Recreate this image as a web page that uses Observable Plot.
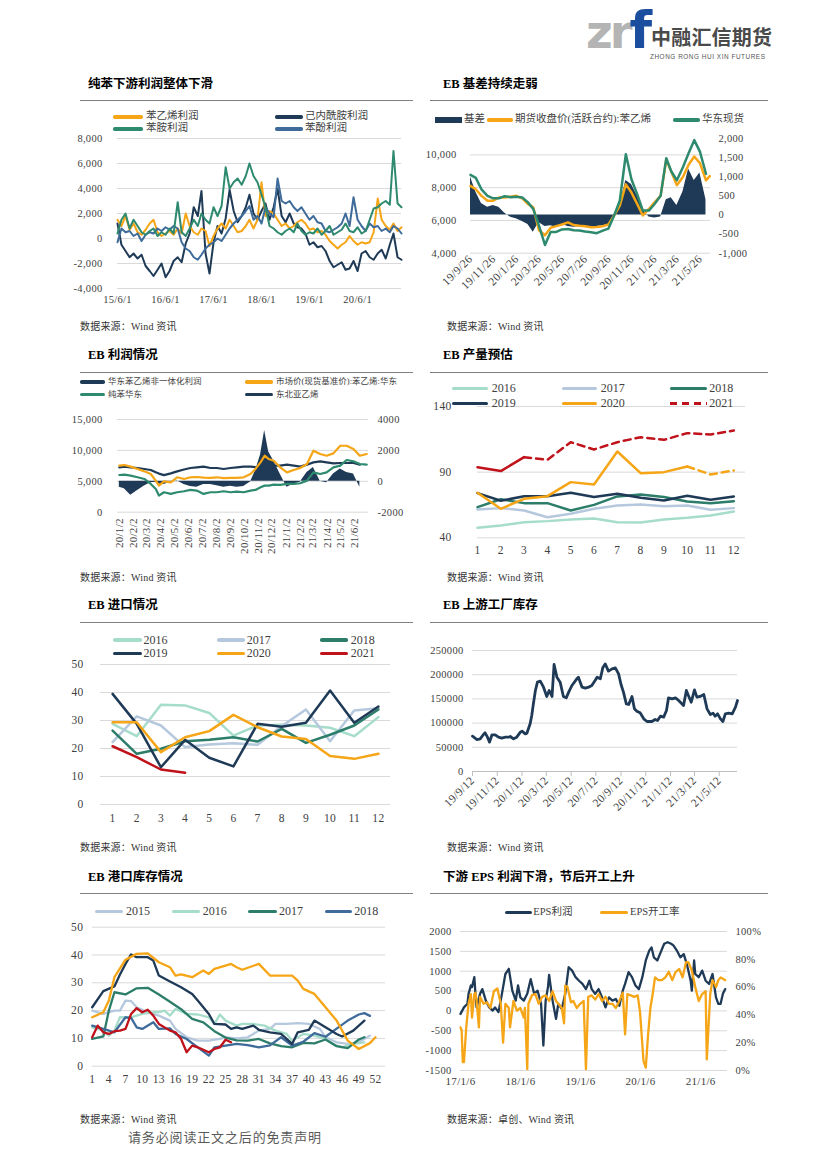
<!DOCTYPE html>
<html><head><meta charset="utf-8">
<script src="https://cdn.jsdelivr.net/npm/d3@7"></script>
<script src="https://cdn.jsdelivr.net/npm/@observablehq/plot@0.6"></script>
<style>
body{margin:0;background:#fff;}
#page{position:relative;width:826px;height:1169px;overflow:hidden;background:#fff;}
#page svg text{letter-spacing:0.3px;}
</style></head><body><div id="page"></div>
<script>
// ---------------- DATA ----------------
// Chart 1: 纯苯下游利润 (monthly, 2015-06 .. 2021-05)
const c1Styrene = [1500,1000,1800,700,1200,500,300,700,1200,1500,500,200,400,600,300,800,400,2000,1000,500,300,800,600,-600,200,800,1200,800,1500,1000,500,600,1000,1500,800,1500,4500,1800,2200,2000,1500,1000,1200,800,1000,1300,1500,1200,700,800,500,600,300,-200,-500,-800,-500,-300,200,-200,-500,-300,-400,-300,500,3200,1500,1000,700,1200,600,900];
const c1Caprolactam = [1200,-500,-1000,-1500,-1200,-1600,-1300,-2200,-2600,-3000,-2500,-2000,-3100,-2600,-1800,-1500,-1900,-400,400,2500,1800,3800,-1200,-2800,-300,1000,400,1600,3900,2200,1300,1800,2500,3500,2000,1500,2200,2800,1500,2500,4000,1800,1300,2000,1200,900,800,400,-500,-300,-700,-600,-1000,-1800,-2300,-2100,-1900,-2500,-2400,-1800,-2600,-1200,-1000,-1500,-1700,-1200,-900,-1600,-500,400,-1500,-1700];
const c1Aniline = [400,1500,2000,800,1500,1000,500,300,600,800,200,500,300,800,400,2900,500,200,800,1500,1000,2000,1500,1200,2500,1800,2600,5700,4000,4500,4800,4300,5000,6000,5000,4500,3500,2500,1000,800,500,300,600,800,500,1200,600,300,500,400,800,300,600,1000,300,500,700,1200,600,500,900,400,600,1500,2400,2500,2800,3000,2700,7000,2800,2500];
const c1Phenol = [-300,800,500,600,200,400,-200,300,500,400,800,600,900,700,1000,800,-300,-800,-1000,-1500,-1700,-1300,-800,-500,-300,0,-200,300,800,1200,1500,1800,2200,2600,1500,1800,1200,2500,2000,1700,4800,3000,2800,3000,2500,2200,2500,2000,1500,1800,1300,1200,600,500,700,900,1200,2000,1000,3300,1500,1000,600,1200,900,1000,600,800,500,1000,800,400];
const c1YTicks = [-4000,-2000,0,2000,4000,6000,8000];
const c1XTicks = ["2015-06-01","2016-06-01","2017-06-01","2018-06-01","2019-06-01","2020-06-01"];

// Chart 2: EB 基差
const c2Dates = ["2019-09-26","2019-10-10","2019-10-25","2019-11-10","2019-11-25","2019-12-10","2019-12-25","2020-01-10","2020-01-25","2020-02-10","2020-02-25","2020-03-10","2020-03-25","2020-04-10","2020-04-25","2020-05-10","2020-05-25","2020-06-10","2020-06-25","2020-07-10","2020-07-25","2020-08-10","2020-08-25","2020-09-10","2020-09-25","2020-10-10","2020-10-25","2020-11-10","2020-11-25","2020-12-10","2020-12-25","2021-01-10","2021-01-25","2021-02-10","2021-02-25","2021-03-10","2021-03-25","2021-04-10","2021-04-25","2021-05-10","2021-05-25","2021-06-10","2021-06-20"];
const c2Spot = [8780,8600,7900,7500,7350,7350,7480,7420,7450,7400,7100,6700,5700,4500,5300,5300,5450,5480,5400,5380,5320,5280,5220,5380,5500,6300,7200,10040,8500,7600,6600,6600,7000,7500,9800,9000,8450,9250,10100,10900,10200,8850,null];
const c2Futures = [8110,7900,7500,7200,7200,7400,7400,7450,7500,7350,7000,6800,5400,5100,5550,5650,5750,5880,5720,5680,5650,5580,5600,5650,5750,6300,6900,8200,7700,7000,6300,6700,7100,7500,9700,9000,8150,8650,9400,9900,9500,8450,8700];
const c2Basis = [990,600,300,200,250,200,50,-60,-100,-170,-250,-450,-200,-300,-280,-320,-250,-300,-320,-300,-300,-320,-300,-280,-250,0,250,900,800,500,150,-50,-80,-50,400,450,250,600,1200,900,1100,400,null];
const c2LeftTicks = [4000,6000,8000,10000];
const c2RightTicks = [-1000,-500,0,500,1000,1500,2000];
const c2XTicks = ["2019-09-26","2019-11-26","2020-01-26","2020-03-26","2020-05-26","2020-07-26","2020-09-26","2020-11-26","2021-01-26","2021-03-26","2021-05-26"];

// Chart 3: EB 利润情况
const c3Dates = ["2020-01-02","2020-01-13","2020-01-27","2020-02-11","2020-02-26","2020-03-11","2020-03-22","2020-03-29","2020-04-09","2020-04-24","2020-05-08","2020-05-23","2020-06-06","2020-06-20","2020-07-05","2020-07-20","2020-08-03","2020-08-18","2020-09-02","2020-09-16","2020-10-01","2020-10-16","2020-10-27","2020-11-07","2020-11-16","2020-11-25","2020-12-06","2020-12-20","2021-01-04","2021-01-19","2021-02-02","2021-02-17","2021-03-03","2021-03-18","2021-04-01","2021-04-16","2021-05-01","2021-05-15","2021-05-30","2021-06-13","2021-06-28"];
const c3Styrene = [7530,7630,7370,6990,6610,6180,5110,4300,5000,4840,5650,5380,5650,5700,5600,5540,5650,5500,5540,5540,5650,6180,7000,8060,9140,8600,8330,7260,6450,6830,7150,7800,9950,9410,9140,9520,10750,10750,10220,9140,9410];
const c3Benzene = [6020,6080,5910,5650,5380,4570,3760,2690,3230,2960,3230,3390,3600,3500,2960,3230,3230,3390,3230,3330,3230,3500,3600,4030,4300,4300,4460,4410,4570,4570,4680,5110,6450,6180,6450,7260,7530,8440,8230,7800,7690];
const c3Ethylene = [7260,7370,7260,7150,6990,6830,6450,6250,6000,6290,6610,6900,7150,7260,7370,7150,7150,6990,7150,7260,7370,7370,7300,7260,7370,7370,7530,7530,7690,7530,7370,7690,8060,8230,8060,7900,7960,7960,7960,7690,null];
const c3Profit = [-380,-490,-900,-600,-300,-100,-60,-170,-200,-60,40,-200,-340,-380,-210,-200,-280,-380,-320,-380,-340,-50,680,1700,3280,1900,1320,470,-380,-170,-60,570,890,0,-100,470,790,570,470,-380,null];
const c3LeftTicks = [0,5000,10000,15000];
const c3RightTicks = [-2000,0,2000,4000];

// Chart 4: EB 产量预估
const months = [1,2,3,4,5,6,7,8,9,10,11,12];
const c4_2016 = [47.6,49.4,51.9,52.7,54,54.7,51.9,51.7,54,55.2,57,60];
const c4_2017 = [61.6,62.6,60.8,55.7,58.3,62.1,64.6,65.4,64.1,64.6,61.3,62.6];
const c4_2018 = [63.4,69.4,66.4,66.4,60.8,65.1,71.5,73,71,67.7,66.4,67.9];
const c4_2019 = [74,68.2,71.7,71.7,74.3,71,73.5,70.5,68.4,72,68.9,71.5];
const c4_2020 = [74.3,62.1,69.7,71.7,82.4,80.6,105.7,89.2,90,94.3,88.2,91.3];
const c4_2021 = [93.8,90.8,101.4,99.4,112.8,107.3,112.8,116.6,114.6,119.7,118.7,121.7];
const c4Forecast2020From = 10, c4Forecast2021From = 3;
const c4YTicks = [40,90,140];

// Chart 5: EB 进口情况
const c5_2016 = [28.8,24.4,35.6,35.4,32.7,24.6,28.2,28.5,28.2,27.4,24.4,31.2];
const c5_2017 = [22.3,31.5,28.2,20.5,21.4,21.9,21.3,28,33.9,22.6,33.6,34.4];
const c5_2018 = [26.4,18.1,19.9,22.6,23.1,24,22.5,27,22,24.9,28.2,33.9];
const c5_2019 = [39.5,28.8,13.3,23.1,16.7,13.6,28.8,27.8,29.2,40.7,29.2,35];
const c5_2020 = [29.4,29.4,18.7,24,26.2,32,27.6,24.3,23.4,17.3,16.3,18.1];
const c5_2021 = [20.8,16.9,12.5,11.3];
const c5YTicks = [0,10,20,30,40,50];

// Chart 6: EB 上游工厂库存
const c6Dates = ["2019-09-12","2019-09-23","2019-10-01","2019-10-09","2019-10-13","2019-10-19","2019-10-24","2019-10-30","2019-11-07","2019-11-15","2019-11-23","2019-12-02","2019-12-10","2019-12-14","2019-12-22","2019-12-30","2020-01-08","2020-01-12","2020-01-20","2020-01-24","2020-02-01","2020-02-05","2020-02-09","2020-02-14","2020-02-19","2020-02-26","2020-03-05","2020-03-13","2020-03-19","2020-03-26","2020-03-31","2020-04-07","2020-04-15","2020-04-23","2020-04-30","2020-05-06","2020-05-14","2020-05-26","2020-05-30","2020-06-08","2020-06-16","2020-06-24","2020-07-02","2020-07-10","2020-07-15","2020-07-23","2020-07-29","2020-08-04","2020-08-12","2020-08-21","2020-08-29","2020-09-06","2020-09-12","2020-09-18","2020-09-25","2020-10-01","2020-10-09","2020-10-15","2020-10-21","2020-10-29","2020-11-07","2020-11-15","2020-11-27","2020-12-05","2020-12-11","2020-12-18","2020-12-26","2021-01-02","2021-01-07","2021-01-16","2021-01-24","2021-02-01","2021-02-13","2021-02-20","2021-02-26","2021-03-04","2021-03-12","2021-03-18","2021-03-26","2021-04-04","2021-04-12","2021-04-20","2021-04-27","2021-05-02","2021-05-08","2021-05-15","2021-05-21","2021-05-27","2021-06-04","2021-06-13","2021-06-21","2021-06-26"];
const c6Stock = [73000,66100,67500,76400,79900,70900,60600,75800,75800,70900,68900,70900,70900,72300,67500,70900,81300,83300,77800,79200,98500,115700,139800,167400,184600,186600,174200,155000,167400,155000,221100,194900,184600,155000,152200,163900,177700,191500,194900,174200,172200,174200,177700,188000,194900,191500,214200,222400,207300,212100,214200,201800,179700,163900,139800,138500,155000,129500,124700,121200,108800,103300,103300,107400,105400,114300,112300,126000,152200,150100,152200,146700,136400,167400,155000,143200,168700,153600,155000,159100,129500,117800,120500,114300,119100,108800,103300,119100,120500,119100,132900,146700];
const c6YTicks = [0,50000,100000,150000,200000,250000];
const c6XTicks = ["2019-09-12","2019-11-12","2020-01-12","2020-03-12","2020-05-12","2020-07-12","2020-09-12","2020-11-12","2021-01-12","2021-03-12","2021-05-12"];

// Chart 7: EB 港口库存情况 (week number, value)
const c7Weeks2015 = [1,3,5,6,7,8,9,11,13,15,16,18,20,22,24,25,27,29,31,33,34,36,38,40,42,43,45,47,49,51];
const c7_2015 = [20,18.8,20,20,23.6,23.4,21.2,19.4,18.2,16.4,13.4,10.4,9.2,9.2,9.8,10.4,10,10.4,12.8,13.4,15.2,15.2,15.5,15.2,13.4,10.4,8.6,8,8.6,11];
const c7Weeks2016 = [1,3,4,5,6,8,9,10,12,13,14,15,16,18,20,22,23,24,25,27,28,30,32,34,36,37,39,41,43,45,46,48,50];
const c7_2016 = [14,12.8,11,12.8,17.6,17.6,18.2,18.8,19.4,19.4,20,18.2,20.6,18.8,18.6,17.6,15.2,18.6,16.4,14.6,15.2,15.2,14.6,12.8,11.6,9.2,11.6,11,9.8,7.4,6.8,8,8.6];
const c7Weeks2017 = [1,3,4,5,7,9,11,13,15,17,19,21,23,25,27,29,31,33,35,37,39,41,43,45,47,49,50];
const c7_2017 = [9.8,10.7,20,26.6,25.8,28,28.2,25.8,23.2,20.5,17,15.8,12.6,10.3,9.3,9.2,9.8,8.2,7.2,6.8,8.4,8.2,9.6,7.2,6.5,9.6,10.4];
const c7Weeks2018 = [1,3,5,7,8,9,10,12,13,15,16,18,20,22,23,25,27,29,31,33,35,37,39,41,43,45,47,49,50,51];
const c7_2018 = [14.6,13.4,12.2,17.6,17.4,14,13.4,15.8,13.4,13.6,11.6,9.8,6.8,3.8,6.8,7.4,8,7.6,6.8,7.5,10.4,7.4,8.8,11.9,10.6,13.5,16.4,18.6,19.1,18.1];
const c7Weeks2019 = [1,3,5,6,7,8,9,11,12,13,15,17,19,20,22,23,25,26,27,28,30,31,33,35,37,38,40,41,43,45,46,48,49,50];
const c7_2019 = [21.2,27,28.7,33,36.8,40.2,39.2,39.2,38,32.6,30.5,28.4,26,23.6,18.8,15.2,15,13.4,14,13.4,14.6,13.1,12.2,11.6,8,12.2,13.1,16.4,14,11.6,10.7,12.8,14.6,16.4];
const c7Weeks2020 = [1,3,4,5,7,9,11,13,15,16,17,19,21,22,23,25,26,27,28,31,33,35,37,38,39,41,43,45,47,49,51,52];
const c7_2020 = [17.6,19.4,23.6,32,38.3,40.4,40.6,37.4,35.6,32.6,33,32,34.4,33.2,35,36.2,36.8,35.6,34.7,36.8,32.6,32.6,32.6,30.8,27.8,26,21.2,16.4,9.2,6.2,8.3,10.4];
const c7Weeks2021 = [1,2,3,4,5,6,7,8,9,10,11,12,13,15,16,17,18,19,20,22,23,24,25,26];
const c7_2021 = [10.4,14.6,12.2,11.6,12.6,12.8,13.4,18.8,20.9,19.4,20.3,18.2,15.2,12.8,12.2,9.8,5,7.4,6.8,5,6.2,6.8,9.5,8.6];
const c7YTicks = [0,10,20,30,40,50];
const c7XTicks = [1,4,7,10,13,16,19,22,25,28,31,34,37,40,43,46,49,52];

// Chart 8: EPS (weeks since 2017-01-06)
const c8Start = "2017-01-06";
const c8ProfitWeeks = [0,3,6,7,9,10,12,13,14,17,19,22,25,28,30,33,36,39,42,45,48,50,52,55,58,61,64,67,70,72,74,76,77,80,83,85,88,91,94,97,100,103,106,109,112,114,117,120,123,126,129,132,135,138,141,143,146,149,152,155,158,161,164,166,168,171,174,177,180,183,185,188,191,194,197,200,201,203,204,207,210,213,216,219,222,224,226,228,230];
const c8Profit = [-75,90,180,430,640,600,850,430,90,430,550,260,90,10,90,-30,430,930,1060,510,260,640,340,260,430,800,430,510,180,-870,260,600,910,260,-200,180,50,430,1100,1015,850,760,680,550,760,550,430,550,340,90,340,260,300,130,510,680,975,850,640,550,850,1270,1520,1600,1350,1270,1480,1690,1730,1690,1650,1520,1350,1430,1140,760,510,1270,930,850,1015,760,680,930,340,180,180,430,550];
const c8RateWeeks = [0,1,2,3,5,7,9,10,12,13,14,16,17,20,23,26,29,32,35,37,39,42,43,46,49,52,55,56,58,59,62,65,68,71,74,77,80,83,85,88,90,91,93,96,98,101,104,107,109,111,114,117,120,123,126,129,132,135,138,141,143,145,148,151,154,156,159,161,163,165,167,169,172,175,178,181,184,187,190,193,196,198,201,204,207,210,213,214,217,219,222,224,226,228,230];
const c8Rate = [31,29,6,6,31,48,55,38,55,56,50,31,53,48,49,45,57,59,48,20,48,45,31,50,43,45,38,45,1,48,54,55,48,53,54,50,57,50,48,45,34,61,60,49,50,45,48,50,1,53,54,51,55,50,53,48,48,45,50,56,26,55,54,53,54,42,7,2,26,45,55,67,65,65,67,71,65,71,73,67,78,78,72,60,50,55,57,8,55,65,60,65,67,66,65];
const c8LeftTicks = [-1500,-1000,-500,0,500,1000,1500,2000];
const c8RightTicks = [0,20,40,60,80,100];
const c8XTicks = ["2017-01-06","2018-01-06","2019-01-06","2020-01-06","2021-01-06"];

// ---------------- STYLE ----------------
const NAVY="#1F3A56", ORANGE="#F5A515", TEAL="#2E8A6E", STEEL="#3E6B99", MINT="#A6DCCA", LBLUE="#B5C8DD", DTEAL="#2C7D69", RED="#C0121A", GRID="#D9D9D9";
const FONT="'Liberation Serif','Noto Sans CJK SC',serif";
const page = document.getElementById("page");
const D = s => new Date(s);
const fmtComma = d => d3.format(",")(d).replace("\u2212","-");
const fmtNum = d => String(Math.round(d));
const fmtDate = d3.utcFormat("%y/%-m/%-d");
const st = fs => ({fontFamily: FONT, fontSize: fs + "px", color: "#404040", background: "transparent", overflow: "visible"});

function put(node, left, top) { node.style.position = "absolute"; node.style.left = left + "px"; node.style.top = top + "px"; page.appendChild(node); return node; }
function text(str, left, top, css) { const d = document.createElement("div"); d.textContent = str; d.style.cssText = `position:absolute;left:${left}px;top:${top}px;white-space:nowrap;line-height:1;` + css; page.appendChild(d); return d; }
function rule(left, top, width) { const d = document.createElement("div"); d.style.cssText = `position:absolute;left:${left}px;top:${top}px;width:${width}px;height:0;border-top:1.3px solid #808080;`; page.appendChild(d); }
function legend(x, y, w, tx, color, label, o = {}) {
  const h = o.box || o.h || 3.5, fs = o.fs || 10.5;
  const s = document.createElement("div");
  let bg = `background:${color};border-radius:${o.box ? 0 : h / 2}px;`;
  if (o.dash) bg = `background:repeating-linear-gradient(90deg,${color} 0 ${o.dash[0]}px,transparent ${o.dash[0]}px ${o.dash[0] + o.dash[1]}px);`;
  s.style.cssText = `position:absolute;left:${x}px;top:${y - h / 2}px;width:${w}px;height:${h}px;` + bg;
  page.appendChild(s);
  text(label, tx, y - fs * 0.5 - 0.5, `font-size:${fs}px;color:#404040;font-family:${FONT};`);
}
function title(str, x, y) { text(str, x, y - 6.5, `font-size:12.5px;font-weight:bold;color:#000;font-family:${FONT};`); }
function source(str, x, y) { text(str, x, y - 5, `font-size:10px;color:#333;font-family:${FONT};letter-spacing:0.2px;`); }
function spacing(svg, sel, px) { svg.querySelectorAll(`[aria-label="${sel}"] text`).forEach(t => t.setAttribute("letter-spacing", px)); }

// ---------------- HEADER ----------------
const logo = document.createElement("div");
logo.style.cssText = "position:absolute;left:586px;top:4px;white-space:nowrap;line-height:1;font-family:'DejaVu Sans';font-weight:bold;";
logo.innerHTML = '<span style="font-size:46px;color:#B4B4B4;letter-spacing:-3px;">zr</span><span style="font-size:52px;color:#1B4E9E;">f</span>';
page.appendChild(logo);
text("中融汇信期货", 651, 27, "font-family:'Noto Sans CJK SC';font-weight:bold;font-size:20px;color:#4a4a4a;letter-spacing:0.2px;");
text("ZHONG RONG HUI XIN FUTURES", 650, 54, "font-family:'Liberation Sans';font-size:6.4px;color:#555;letter-spacing:0.55px;");

// ---------------- CHART 1 ----------------
title("纯苯下游利润整体下滑", 88, 84); rule(80, 100, 333);
const c1Months = d3.utcMonth.range(D("2015-06-01"), D("2021-06-01"));
const r1 = s => c1Months.map((d, i) => ({x: d, y: s[i]}));
const ch1 = Plot.plot({
  width: 330, height: 180, marginLeft: 37, marginRight: 9, marginTop: 8, marginBottom: 22, style: st(10.5),
  x: {type: "utc", domain: [c1Months[0], c1Months[c1Months.length - 1]], label: null},
  y: {domain: [-4000, 8000], label: null},
  marks: [
    Plot.gridY({ticks: c1YTicks, stroke: GRID, strokeOpacity: 1}),
    Plot.axisY({ticks: c1YTicks, tickSize: 0, tickPadding: 15, tickFormat: fmtComma, label: null}),
    Plot.axisX({ticks: c1XTicks.map(D), tickSize: 0, tickPadding: 7, tickFormat: fmtDate, label: null}),
    Plot.lineY(r1(c1Caprolactam), {x: "x", y: "y", stroke: NAVY, strokeWidth: 2}),
    Plot.lineY(r1(c1Styrene), {x: "x", y: "y", stroke: ORANGE, strokeWidth: 2}),
    Plot.lineY(r1(c1Phenol), {x: "x", y: "y", stroke: STEEL, strokeWidth: 2}),
    Plot.lineY(r1(c1Aniline), {x: "x", y: "y", stroke: TEAL, strokeWidth: 2})
  ]
});
spacing(ch1, "x-axis tick label", 0.8);
put(ch1, 80, 130);
legend(113, 117, 30, 146, ORANGE, "苯乙烯利润");
legend(275, 117, 28, 305, NAVY, "己内酰胺利润");
legend(113, 129, 30, 146, TEAL, "苯胺利润");
legend(275, 129, 28, 305, STEEL, "苯酚利润");
source("数据来源：Wind 资讯", 80, 327);

// ---------------- CHART 2 ----------------
title("EB 基差持续走弱", 443, 84); rule(430, 100, 338);
const c2R = d3.scaleLinear([-1000, 2000], [4000, 11000]);
const c2Data = c2Dates.map((d, i) => ({x: D(d), spot: c2Spot[i], fut: c2Futures[i], basis: c2Basis[i]}));
const ch2 = Plot.plot({
  width: 340, height: 200, marginLeft: 40, marginRight: 60, marginTop: 8, marginBottom: 77.3, style: st(10.5),
  x: {type: "utc", domain: [D("2019-09-26"), D("2021-06-22")], label: null},
  y: {domain: [4000, 11000], label: null},
  marks: [
    Plot.gridY({ticks: c2LeftTicks, stroke: GRID, strokeOpacity: 1}),
    Plot.areaY(c2Data.filter(d => d.basis != null), {x: "x", y1: c2R(0), y2: d => c2R(d.basis), fill: NAVY}),
    Plot.lineY(c2Data, {x: "x", y: "fut", stroke: ORANGE, strokeWidth: 2.5}),
    Plot.lineY(c2Data.filter(d => d.spot != null), {x: "x", y: "spot", stroke: TEAL, strokeWidth: 2.5}),
    Plot.axisY({ticks: c2LeftTicks, tickSize: 0, tickPadding: 14, tickFormat: fmtComma, label: null}),
    Plot.axisY({ticks: c2RightTicks.map(c2R), anchor: "right", tickSize: 0, tickPadding: 8, tickFormat: d => fmtComma(Math.round(c2R.invert(d))), label: null}),
    Plot.axisX({ticks: c2XTicks.map(D), tickRotate: -45, tickSize: 0, tickPadding: 4, tickFormat: fmtDate, label: null, fontSize: 11.5})
  ]
});
spacing(ch2, "x-axis tick label", 1.3);
put(ch2, 430, 130);
legend(435, 120, 27, 464, NAVY, "基差", {box: 6});
legend(487, 120, 26, 515, ORANGE, "期货收盘价(活跃合约):苯乙烯");
legend(673, 120, 27, 702, TEAL, "华东现货");
source("数据来源：Wind 资讯", 447, 327);

// ---------------- CHART 3 ----------------
title("EB 利润情况", 88, 355); rule(80, 371.5, 333);
const c3R = d3.scaleLinear([-2000, 4000], [0, 15000]);
const c3Data = c3Dates.map((d, i) => ({x: D(d), sty: c3Styrene[i], ben: c3Benzene[i], eth: c3Ethylene[i], pro: c3Profit[i]}));
const c3XTicks = d3.utcMonth.range(D("2020-01-01"), D("2021-06-02")).map(d => d3.utcDay.offset(d, 1));
const ch3 = Plot.plot({
  width: 340, height: 160, marginLeft: 47, marginRight: 42, marginTop: 9, marginBottom: 58.3, style: st(10.5),
  x: {type: "utc", domain: [D("2019-12-29"), D("2021-07-02")], label: null},
  y: {domain: [0, 15000], label: null},
  marks: [
    Plot.gridY({ticks: c3LeftTicks, stroke: GRID, strokeOpacity: 1}),
    Plot.areaY(c3Data.filter(d => d.pro != null), {x: "x", y1: c3R(0), y2: d => c3R(d.pro), fill: NAVY}),
    Plot.lineY(c3Data.filter(d => d.eth != null), {x: "x", y: "eth", stroke: NAVY, strokeWidth: 2.2}),
    Plot.lineY(c3Data, {x: "x", y: "ben", stroke: TEAL, strokeWidth: 2.2}),
    Plot.lineY(c3Data, {x: "x", y: "sty", stroke: ORANGE, strokeWidth: 2.2}),
    Plot.axisY({ticks: c3LeftTicks, tickSize: 0, tickPadding: 15, tickFormat: fmtComma, label: null}),
    Plot.axisY({ticks: c3RightTicks.map(c3R), anchor: "right", tickSize: 0, tickPadding: 9, tickFormat: d => fmtComma(Math.round(c3R.invert(d))).replace(",", ""), label: null}),
    Plot.axisX({ticks: c3XTicks, tickRotate: -90, tickSize: 0, tickPadding: 6, tickFormat: fmtDate, label: null, fontSize: 11})
  ]
});
spacing(ch3, "x-axis tick label", 1.2);
put(ch3, 70, 410);
legend(80, 382, 25, 108, NAVY, "华东苯乙烯非一体化利润", {fs: 8.5});
legend(245, 382, 28, 276, ORANGE, "市场价(现货基准价):苯乙烯:华东", {fs: 8.5});
legend(80, 394.3, 25, 108, TEAL, "纯苯华东", {fs: 8.5});
legend(245, 394.3, 28, 276, NAVY, "东北亚乙烯", {fs: 8.5});
source("数据来源：Wind 资讯", 80, 578);

// ---------------- CHART 4 ----------------
title("EB 产量预估", 443, 355); rule(430, 371.5, 338);
const mr = (s, a = 1, b = 12) => months.map((m, i) => ({x: m, y: s[i]})).filter(d => d.x >= a && d.x <= b && d.y != null);
const ch4 = Plot.plot({
  width: 340, height: 165, marginLeft: 47, marginRight: 25, marginTop: 8, marginBottom: 25.7, style: st(11.5),
  x: {domain: [1, 12.5], label: null}, y: {domain: [40, 140], label: null},
  marks: [
    Plot.gridY({ticks: c4YTicks, stroke: GRID, strokeOpacity: 1}),
    Plot.axisY({ticks: c4YTicks, tickSize: 0, tickPadding: 26, label: null}),
    Plot.axisX({ticks: months, tickSize: 0, tickPadding: 8, label: null}),
    Plot.lineY(mr(c4_2016), {x: "x", y: "y", stroke: MINT, strokeWidth: 2.5}),
    Plot.lineY(mr(c4_2017), {x: "x", y: "y", stroke: LBLUE, strokeWidth: 2.5}),
    Plot.lineY(mr(c4_2018), {x: "x", y: "y", stroke: DTEAL, strokeWidth: 2.5}),
    Plot.lineY(mr(c4_2019), {x: "x", y: "y", stroke: NAVY, strokeWidth: 2.5}),
    Plot.lineY(mr(c4_2020, 1, c4Forecast2020From), {x: "x", y: "y", stroke: ORANGE, strokeWidth: 2.5}),
    Plot.lineY(mr(c4_2020, c4Forecast2020From, 12), {x: "x", y: "y", stroke: ORANGE, strokeWidth: 2.5, strokeDasharray: "7,5"}),
    Plot.lineY(mr(c4_2021, 1, c4Forecast2021From), {x: "x", y: "y", stroke: RED, strokeWidth: 2.5}),
    Plot.lineY(mr(c4_2021, c4Forecast2021From, 12), {x: "x", y: "y", stroke: RED, strokeWidth: 2.5, strokeDasharray: "7,5"})
  ]
});
put(ch4, 430, 398);
legend(452, 388.3, 36, 491.7, MINT, "2016", {fs: 12});
legend(562, 388.3, 35, 600.7, LBLUE, "2017", {fs: 12});
legend(670, 388.3, 37, 709.3, DTEAL, "2018", {fs: 12});
legend(452, 403.5, 36, 491.7, NAVY, "2019", {fs: 12});
legend(562, 403.5, 35, 600.7, ORANGE, "2020", {fs: 12});
legend(670, 403.5, 37, 709.3, RED, "2021", {fs: 12, dash: [7, 5]});
source("数据来源：Wind 资讯", 447, 578);

// ---------------- CHART 5 ----------------
title("EB 进口情况", 88, 605); rule(80, 621.5, 333);
const ch5 = Plot.plot({
  width: 340, height: 175, marginLeft: 40, marginRight: 10, marginTop: 9, marginBottom: 26, style: st(11.5),
  x: {domain: [0.5, 12.5], label: null}, y: {domain: [0, 50], label: null},
  marks: [
    Plot.gridY({ticks: c5YTicks, stroke: GRID, strokeOpacity: 1}),
    Plot.axisY({ticks: c5YTicks, tickSize: 0, tickPadding: 17, label: null}),
    Plot.axisX({ticks: months, tickSize: 0, tickPadding: 9, label: null}),
    Plot.lineY(mr(c5_2016), {x: "x", y: "y", stroke: MINT, strokeWidth: 2.5}),
    Plot.lineY(mr(c5_2017), {x: "x", y: "y", stroke: LBLUE, strokeWidth: 2.5}),
    Plot.lineY(mr(c5_2018), {x: "x", y: "y", stroke: DTEAL, strokeWidth: 2.5}),
    Plot.lineY(mr(c5_2019), {x: "x", y: "y", stroke: NAVY, strokeWidth: 2.5}),
    Plot.lineY(mr(c5_2020), {x: "x", y: "y", stroke: ORANGE, strokeWidth: 2.5}),
    Plot.lineY(mr(c5_2021), {x: "x", y: "y", stroke: RED, strokeWidth: 2.5})
  ]
});
put(ch5, 60, 655);
legend(113, 640, 29, 143.5, MINT, "2016", {fs: 12});
legend(217, 640, 28, 246.7, LBLUE, "2017", {fs: 12});
legend(320, 640, 28, 350.7, DTEAL, "2018", {fs: 12});
legend(113, 653.7, 29, 143.5, NAVY, "2019", {fs: 12});
legend(217, 653.7, 28, 246.7, ORANGE, "2020", {fs: 12});
legend(320, 653.7, 28, 350.7, RED, "2021", {fs: 12});
source("数据来源：Wind 资讯", 80, 848);

// ---------------- CHART 6 ----------------
title("EB 上游工厂库存", 443, 605); rule(430, 621.5, 338);
const ch6 = Plot.plot({
  width: 320, height: 200, marginLeft: 42, marginRight: 13, marginTop: 8, marginBottom: 71, style: st(10.5),
  x: {type: "utc", domain: [D("2019-09-12"), D("2021-06-26")], label: null},
  y: {domain: [0, 250000], label: null},
  marks: [
    Plot.gridY({ticks: c6YTicks.slice(1), stroke: GRID, strokeOpacity: 1}),
    Plot.ruleY([0], {stroke: "#BFBFBF"}),
    Plot.axisY({ticks: c6YTicks, tickSize: 0, tickPadding: 9, tickFormat: fmtNum, label: null}),
    Plot.axisX({ticks: c6XTicks.map(D), tickRotate: -45, tickSize: 5, stroke: "#BFBFBF", tickPadding: 2, tickFormat: fmtDate, label: null, fontSize: 11.5}),
    Plot.lineY(c6Dates.map((d, i) => ({x: D(d), y: c6Stock[i]})), {x: "x", y: "y", stroke: NAVY, strokeWidth: 2.8})
  ]
});
spacing(ch6, "x-axis tick label", 1.3);
put(ch6, 430, 642);
source("数据来源：Wind 资讯", 447, 848);

// ---------------- CHART 7 ----------------
title("EB 港口库存情况", 88, 877); rule(80, 892.5, 333);
const wr = (w, s) => w.map((x, i) => ({x, y: s[i]}));
const ch7 = Plot.plot({
  width: 340, height: 175, marginLeft: 31.7, marginRight: 15, marginTop: 8.7, marginBottom: 27.3, style: st(11.5),
  x: {domain: [1, 53.8], label: null}, y: {domain: [0, 50], label: null},
  marks: [
    Plot.gridY({ticks: c7YTicks, stroke: GRID, strokeOpacity: 1}),
    Plot.axisY({ticks: c7YTicks, tickSize: 0, tickPadding: 9, label: null}),
    Plot.axisX({ticks: c7XTicks, tickSize: 0, tickPadding: 9, label: null}),
    Plot.lineY(wr(c7Weeks2015, c7_2015), {x: "x", y: "y", stroke: LBLUE, strokeWidth: 2.3}),
    Plot.lineY(wr(c7Weeks2016, c7_2016), {x: "x", y: "y", stroke: MINT, strokeWidth: 2.3}),
    Plot.lineY(wr(c7Weeks2017, c7_2017), {x: "x", y: "y", stroke: DTEAL, strokeWidth: 2.3}),
    Plot.lineY(wr(c7Weeks2018, c7_2018), {x: "x", y: "y", stroke: STEEL, strokeWidth: 2.3}),
    Plot.lineY(wr(c7Weeks2019, c7_2019), {x: "x", y: "y", stroke: NAVY, strokeWidth: 2.3}),
    Plot.lineY(wr(c7Weeks2020, c7_2020), {x: "x", y: "y", stroke: ORANGE, strokeWidth: 2.3}),
    Plot.lineY(wr(c7Weeks2021, c7_2021), {x: "x", y: "y", stroke: RED, strokeWidth: 2.3})
  ]
});
put(ch7, 60, 918);
legend(95, 911.7, 28, 126, LBLUE, "2015", {fs: 12});
legend(172, 911.7, 28, 202.7, MINT, "2016", {fs: 12});
legend(248, 911.7, 29, 279, DTEAL, "2017", {fs: 12});
legend(325, 911.7, 27, 354.3, STEEL, "2018", {fs: 12});
source("数据来源：Wind 资讯", 80, 1120);

// ---------------- CHART 8 ----------------
title("下游 EPS 利润下滑，节后开工上升", 443, 877); rule(430, 892.5, 338);
const c8R = d3.scaleLinear([0, 100], [-1500, 2000]);
const wd = w => d3.utcDay.offset(D(c8Start), 7 * w);
const ch8 = Plot.plot({
  width: 380, height: 175, marginLeft: 60, marginRight: 53, marginTop: 9, marginBottom: 27, style: st(10.5),
  x: {type: "utc", domain: [D(c8Start), D("2021-06-18")], label: null},
  y: {domain: [-1500, 2000], label: null},
  marks: [
    Plot.gridY({ticks: c8LeftTicks, stroke: GRID, strokeOpacity: 1}),
    Plot.axisY({ticks: c8LeftTicks, tickSize: 0, tickPadding: 9, tickFormat: fmtNum, label: null}),
    Plot.axisY({ticks: c8RightTicks.map(c8R), anchor: "right", tickSize: 0, tickPadding: 8, tickFormat: d => Math.round(c8R.invert(d)) + "%", label: null}),
    Plot.axisX({ticks: c8XTicks.map(D), tickSize: 0, tickPadding: 7, tickFormat: fmtDate, label: null, fontSize: 11}),
    Plot.lineY(c8ProfitWeeks.map((w, i) => ({x: wd(w), y: c8Profit[i]})), {x: "x", y: "y", stroke: NAVY, strokeWidth: 2.3}),
    Plot.lineY(c8RateWeeks.map((w, i) => ({x: wd(w), y: c8R(c8Rate[i])})), {x: "x", y: "y", stroke: ORANGE, strokeWidth: 2.3})
  ]
});
spacing(ch8, "x-axis tick label", 0.8);
put(ch8, 400, 922);
legend(505, 912.3, 27, 533.3, NAVY, "EPS利润");
legend(600, 912.3, 28, 630, ORANGE, "EPS开工率");
source("数据来源：卓创、Wind 资讯", 447, 1120);

// footer
text("请务必阅读正文之后的免责声明", 128, 1131, `font-size:13px;color:#595959;letter-spacing:0.85px;font-family:${FONT};`);
</script></body></html>
